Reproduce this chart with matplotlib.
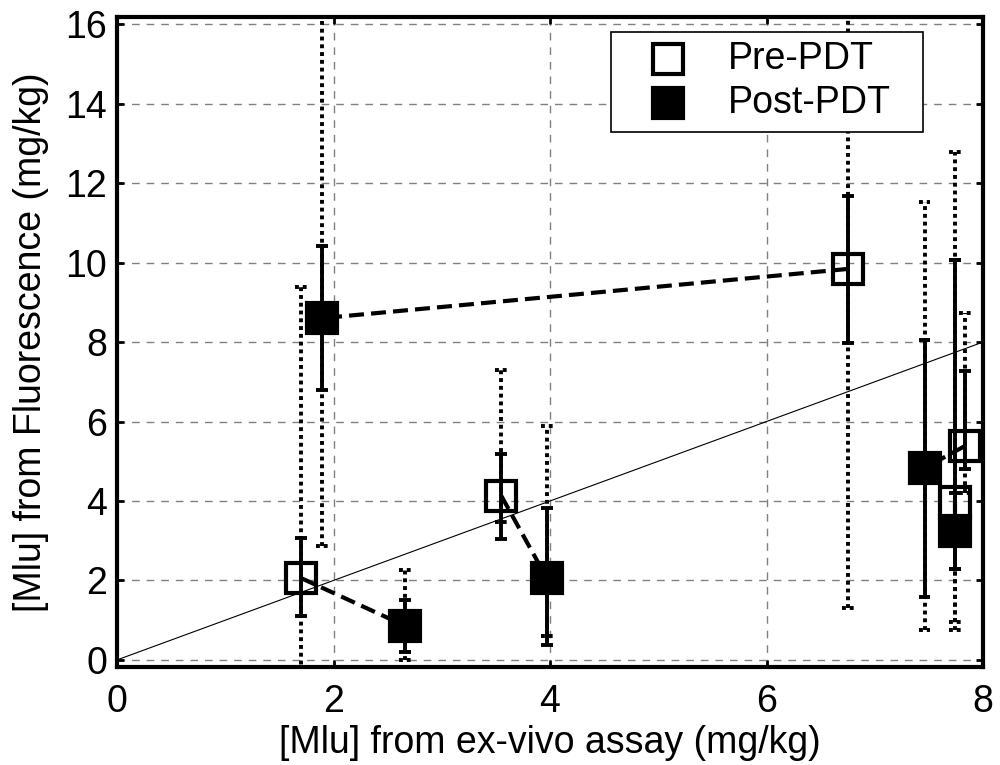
import matplotlib
matplotlib.use("Agg")
import matplotlib.pyplot as plt
from matplotlib.patches import Rectangle

plt.rcParams['font.family'] = ['Liberation Sans', 'DejaVu Sans']

# Paired measurements: index i in pre_* and post_* is the same subject
pre_x = [1.70, 3.55, 6.75, 7.74, 7.83]
pre_y = [2.06, 4.13, 9.84, 3.97, 5.38]
pre_solid_lo = [1.11, 3.04, 7.97, 2.29, 4.80]
pre_solid_hi = [3.07, 5.18, 11.67, 10.06, 7.27]
pre_dot_lo = [-0.5, 3.47, 1.31, 0.75, 4.20]
pre_dot_hi = [9.38, 7.30, 18.0, 12.78, 8.73]

post_x = [2.66, 3.97, 1.89, 7.74, 7.46]
post_y = [0.86, 2.06, 8.60, 3.25, 4.83]
post_solid_lo = [0.20, 0.38, 6.80, 2.29, 1.58]
post_solid_hi = [1.51, 3.82, 10.42, 4.20, 8.05]
post_dot_lo = [0.00, 0.60, 2.87, 0.96, 0.75]
post_dot_hi = [2.26, 5.89, 18.0, 10.06, 11.52]

x_ticks = [0, 2, 4, 6, 8]
y_ticks = [0, 2, 4, 6, 8, 10, 12, 14, 16]
x_label = "[Mlu] from ex-vivo assay (mg/kg)"
y_label = "[Mlu] from Fluorescence (mg/kg)"
legend_labels = ['Pre-PDT', 'Post-PDT']

FS = 27
MS = 21

fig = plt.figure(figsize=(10, 7.65), dpi=100)
ax = fig.add_axes([0.117, 0.128, 0.866, 0.8497])

CAP = 0.055
BAR_LW = 2.8
DOT_STYLE = (0, (1, 1))


def errbar(x, lo, hi, style):
    ax.plot([x, x], [lo, hi], color='black', lw=BAR_LW, linestyle=style,
            dash_capstyle='butt', solid_capstyle='butt', zorder=3)
    for v in (lo, hi):
        ax.plot([x - CAP, x + CAP], [v, v], color='black', lw=BAR_LW,
                linestyle=style, dash_capstyle='butt', solid_capstyle='butt',
                zorder=3)


# identity line
ax.plot([0, 8], [0, 8], color='black', lw=0.8, zorder=2)

for i in range(len(pre_x)):
    errbar(pre_x[i], pre_dot_lo[i], pre_dot_hi[i], DOT_STYLE)
    errbar(pre_x[i], pre_solid_lo[i], pre_solid_hi[i], '-')
    errbar(post_x[i], post_dot_lo[i], post_dot_hi[i], DOT_STYLE)
    errbar(post_x[i], post_solid_lo[i], post_solid_hi[i], '-')
    ax.plot([pre_x[i], post_x[i]], [pre_y[i], post_y[i]], color='black',
            lw=3, linestyle=(0, (3.6, 1.7)), dash_capstyle='butt', zorder=4)

ax.plot(pre_x, pre_y, linestyle='none', marker='s', markersize=MS,
        markerfacecolor='none', markeredgecolor='black', markeredgewidth=3,
        zorder=5)
ax.plot(post_x, post_y, linestyle='none', marker='s', markersize=MS,
        markerfacecolor='black', markeredgecolor='black', markeredgewidth=3,
        zorder=5)

ax.set_xlim(0, 8)
ax.set_ylim(-0.18, 16.18)
ax.set_xticks(x_ticks)
ax.set_yticks(y_ticks)
ax.grid(True, color='#808080', lw=1.0, linestyle=(0, (5.5, 5)))
ax.set_axisbelow(True)
for s in ax.spines.values():
    s.set_linewidth(3)
ax.tick_params(direction='in', length=5, width=2, top=True, right=True,
               labelsize=FS, pad=7)
ax.tick_params(axis='x', pad=12)
ax.set_xlabel(x_label, fontsize=FS, labelpad=4)
ax.set_ylabel(y_label, fontsize=FS, labelpad=12)

# legend box drawn in axes coordinates
ax.add_patch(Rectangle((0.5704, 0.8231), 0.3603, 0.1538, transform=ax.transAxes,
                       facecolor='white', edgecolor='black', lw=1.2, zorder=10))
legend_rows = [0.9354, 0.8677]
legend_faces = ['none', 'black']
for yrow, face, lab in zip(legend_rows, legend_faces, legend_labels):
    ax.plot([0.6363], [yrow], transform=ax.transAxes, linestyle='none',
            marker='s', markersize=MS, markerfacecolor=face,
            markeredgecolor='black', markeredgewidth=3, zorder=11,
            clip_on=False)
    ax.text(0.7055, yrow, lab, transform=ax.transAxes, fontsize=FS,
            va='center', ha='left', zorder=11)

fig.savefig('out.png', dpi=100)
